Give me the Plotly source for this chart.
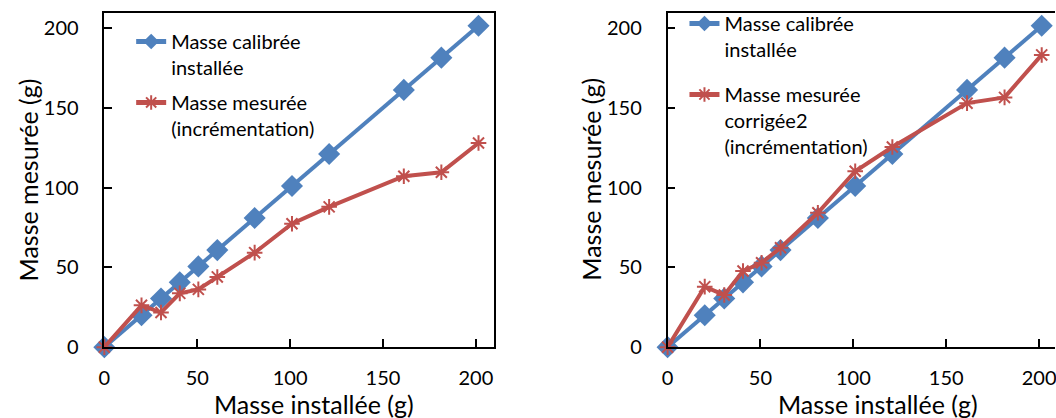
import plotly.graph_objects as go

# ---- data ----
masse_installee = [0, 20, 30.5, 40.6, 50.6, 60.8, 80.9, 101, 121, 161.2, 181.4, 201.4]
masse_calibree = [0, 20, 30.5, 40.6, 50.6, 60.8, 80.9, 101, 121, 161.2, 181.4, 201.4]
masse_mesuree = [0, 26.2, 21.7, 33.7, 36.2, 44.0, 59.2, 77.3, 87.9, 107.1, 109.6, 127.9]
masse_corrigee2 = [0, 37.9, 32.7, 47.7, 52.9, 62.3, 84.2, 110.2, 125.4, 152.9, 156.5, 183.1]

tick_vals = [0, 50, 100, 150, 200]
tick_text = ["0", "50", "100", "150", "200"]

name_calib = "Masse calibrée<br>installée"
name_mes = "Masse mesurée<br>(incrémentation)"
name_corr = "Masse mesurée<br>corrigée2<br>(incrémentation)"
x_title = "Masse installée (g)"
y_title = "Masse mesurée (g)"

BLUE = "#4F81BD"
RED = "#C0504D"
FONT = "Lato"
W, H = 1056, 418
H_EFF = 408  # effective rendered height observed in the viewer

fig = go.Figure()

def add_pair(xa, ya, red_vals, red_name, legend):
    fig.add_trace(go.Scatter(
        x=masse_installee, y=masse_calibree, name=name_calib, mode="lines+markers",
        line=dict(color=BLUE, width=4), marker=dict(symbol="diamond", size=17, color=BLUE),
        xaxis=xa, yaxis=ya, cliponaxis=False, legend=legend, legendgroup=legend + "a"))
    fig.add_trace(go.Scatter(
        x=masse_installee, y=red_vals, name=red_name, mode="lines+markers",
        line=dict(color=RED, width=4),
        marker=dict(symbol="asterisk-open", size=13, color=RED, line=dict(color=RED, width=2)),
        xaxis=xa, yaxis=ya, cliponaxis=False, legend=legend, legendgroup=legend + "b"))

add_pair("x", "y", masse_mesuree, name_mes, "legend")
add_pair("x2", "y2", masse_corrigee2, name_corr, "legend2")

def px_x(p):
    return p / W

def px_y(p):
    return (H_EFF - p) / H_EFF

axis_common = dict(
    showline=True, linecolor="black", linewidth=1.5,
    ticks="inside", ticklen=8, tickwidth=1.5, tickcolor="black",
    showgrid=False, zeroline=False,
    tickvals=tick_vals, ticktext=tick_text, ticklabeloverflow="allow",
    tickfont=dict(family=FONT, size=20, color="black"),
)

ydom = [px_y(348), px_y(13)]
fig.update_layout(
    xaxis=dict(axis_common, domain=[px_x(99), px_x(491)], range=[0, 209.6], mirror=True, anchor="y",
               ticklabelstandoff=12),
    yaxis=dict(axis_common, domain=ydom, range=[0, 209.4], mirror=True, anchor="x",
               ticklabelstandoff=20),
    xaxis2=dict(axis_common, domain=[px_x(666), 1], range=[0, (1056 - 666) / 1.87], mirror=True,
                anchor="y2", ticklabelstandoff=12),
    yaxis2=dict(axis_common, domain=ydom, range=[0, 209.4], mirror=False, anchor="x2",
                ticklabelstandoff=20),
)

legend_common = dict(
    font=dict(family=FONT, size=20, color="black"), bgcolor="rgba(0,0,0,0)",
    valign="top", itemsizing="constant",
    xanchor="left", yanchor="top",
)
fig.update_layout(
    legend=dict(legend_common, x=px_x(126), y=px_y(22), tracegroupgap=6),
    legend2=dict(legend_common, x=px_x(683), y=px_y(4), tracegroupgap=16),
)

ann_font = dict(family=FONT, size=25, color="black")
fig.update_layout(annotations=[
    dict(text=x_title, x=px_x(310), y=px_y(405), xref="paper", yref="paper",
         xanchor="center", yanchor="middle", showarrow=False, font=ann_font),
    dict(text=y_title, x=px_x(22), y=px_y(180), xref="paper", yref="paper",
         xanchor="center", yanchor="middle", showarrow=False, font=ann_font, textangle=-90),
    dict(text=x_title, x=px_x(878), y=px_y(405), xref="paper", yref="paper",
         xanchor="center", yanchor="middle", showarrow=False, font=ann_font),
    dict(text=y_title, x=px_x(588), y=px_y(180), xref="paper", yref="paper",
         xanchor="center", yanchor="middle", showarrow=False, font=ann_font, textangle=-90),
])

fig.update_layout(
    width=W, height=H, margin=dict(l=0, r=0, t=0, b=0), autosize=False,
    paper_bgcolor="white", plot_bgcolor="white", showlegend=True,
    font=dict(family=FONT, color="black"),
)

fig.write_html(
    "out.html",
    config={"displayModeBar": False, "responsive": False},
    post_script="document.body.style.margin='0px';document.body.style.overflow='hidden';",
)
